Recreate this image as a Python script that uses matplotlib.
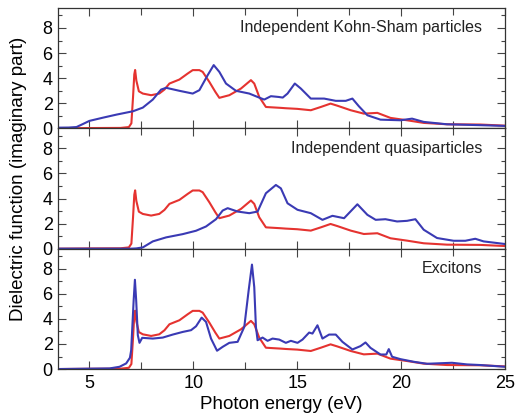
import matplotlib
matplotlib.use("Agg")
import matplotlib.pyplot as plt
from matplotlib.ticker import MultipleLocator

plt.rcParams['font.family'] = ['Liberation Sans', 'DejaVu Sans']

# Espectro rojo (igual en los tres paneles)
e_red = [3.5, 5.0, 6.5, 6.9, 7.02, 7.1, 7.16, 7.2, 7.26, 7.38, 7.57, 7.97, 8.36, 8.61,
         8.85, 9.33, 9.73, 9.97, 10.29, 10.45, 10.77, 11.06, 11.25, 11.73, 12.29, 12.77,
         12.93, 13.17, 13.49, 14.2, 14.45, 15.0, 15.65, 16.13, 16.6, 16.93, 17.57, 18.2,
         18.85, 19.48, 20.28, 21.08, 22.2, 23.8, 25.0]
v_red = [0.0, 0.02, 0.03, 0.1, 0.4, 2.5, 4.3, 4.65, 3.8, 2.95, 2.77, 2.64, 2.77, 3.09,
         3.57, 3.89, 4.37, 4.64, 4.64, 4.5, 3.7, 2.9, 2.43, 2.64, 3.17, 3.84,
         3.57, 2.5, 1.7, 1.63, 1.6, 1.55, 1.44, 1.7, 1.97, 1.8, 1.44, 1.17,
         1.23, 0.83, 0.64, 0.43, 0.32, 0.3, 0.21]

# Kohn-Sham independientes
e_ks = [3.5, 4.0, 4.38, 4.7, 5.0, 5.66, 6.3, 7.1, 7.57, 8.05, 8.45, 8.69, 9.33, 9.97,
        10.29, 10.69, 10.98, 11.25, 11.57, 12.05, 12.69, 13.09, 13.41, 13.73, 14.1, 14.3,
        14.53, 14.88, 15.17, 15.65, 16.29, 16.85, 17.33, 17.65, 17.96, 18.37, 19.0, 19.96,
        20.52, 21.08, 22.2, 23.8, 25.0]
v_ks = [0.05, 0.06, 0.1, 0.35, 0.59, 0.85, 1.09, 1.36, 1.65, 2.29, 3.09, 3.23, 2.99, 2.77,
        3.04, 4.24, 5.04, 4.5, 3.57, 2.99, 2.77, 2.5, 2.29, 2.56, 2.5, 2.45,
        2.77, 3.57, 3.17, 2.37, 2.37, 2.19, 2.19, 2.37, 1.76, 1.04, 0.69, 0.64,
        0.77, 0.51, 0.32, 0.25, 0.19]

# Cuasipartículas independientes
e_qp = [3.5, 7.0, 7.25, 7.57, 8.05, 8.69, 9.49, 10.13, 10.61, 11.09, 11.41, 11.65, 12.13,
        12.69, 13.09, 13.49, 13.97, 14.21, 14.53, 15.01, 15.65, 16.21, 16.69, 17.25, 17.89,
        18.37, 18.77, 19.24, 19.8, 20.28, 20.68, 21.08, 21.72, 22.52, 23.08, 23.56, 23.96, 25.0]
v_qp = [0.0, 0.0, 0.02, 0.1, 0.58, 0.9, 1.16, 1.43, 1.77, 2.35, 3.04, 3.23, 2.96,
        2.83, 2.96, 4.42, 5.08, 4.81, 3.62, 3.1, 2.83, 2.3, 2.62, 2.43, 3.54,
        2.7, 2.3, 2.35, 2.17, 2.22, 2.35, 1.51, 0.85, 0.63, 0.63, 0.79, 0.58, 0.37]

# Excitones
e_ex = [3.5, 5.97, 6.45, 6.77, 6.95, 7.01, 7.13, 7.19, 7.25, 7.33, 7.41, 7.54, 8.05, 8.53,
        9.01, 9.49, 9.89, 10.13, 10.4, 10.61, 10.85, 11.14, 11.41, 11.73, 12.13, 12.45,
        12.66, 12.82, 12.93, 13.01, 13.09, 13.33, 13.57, 13.81, 14.13, 14.45, 14.69, 15.01,
        15.25, 15.57, 15.73, 15.97, 16.21, 16.53, 16.85, 17.17, 17.65, 18.04, 18.28, 18.52,
        19.0, 19.28, 19.4, 19.56, 19.96, 20.6, 21.24, 22.44, 23.16, 23.8, 25.0]
v_ex = [0.0, 0.05, 0.18, 0.45, 0.9, 1.5, 5.5, 7.12, 5.5, 2.7, 2.09, 2.49, 2.43, 2.51,
        2.75, 2.96, 3.1, 3.41, 4.1, 3.76, 2.43, 1.46, 1.77, 2.09, 2.17, 3.36,
        6.27, 8.33, 6.53, 3.36, 2.3, 2.51, 2.25, 2.43, 2.35, 2.09, 2.25, 2.09,
        2.35, 2.91, 2.83, 3.49, 2.43, 2.75, 2.75, 2.17, 1.56, 1.83, 2.12, 1.69,
        1.16, 1.16, 1.59, 0.98, 0.79, 0.58, 0.42, 0.5, 0.37, 0.32, 0.18]

panel_labels = ["Independent Kohn-Sham particles", "Independent quasiparticles", "Excitons"]
blue_series = [(e_ks, v_ks), (e_qp, v_qp), (e_ex, v_ex)]

red = '#e53330'
blue = '#3a3ab4'

fig, axes = plt.subplots(3, 1, sharex=True, figsize=(5.15, 4.17), dpi=100)
fig.subplots_adjust(left=0.113, right=0.981, bottom=0.115, top=0.981, hspace=0)

for ax, (eb, vb), label in zip(axes, blue_series, panel_labels):
    ax.plot(e_red, v_red, color=red, lw=1.5)
    ax.plot(eb, vb, color=blue, lw=1.5)
    ax.set_xlim(3.5, 25)
    ax.set_ylim(0, 9.6)
    ax.xaxis.set_major_locator(MultipleLocator(5))
    ax.xaxis.set_minor_locator(MultipleLocator(2.5))
    ax.yaxis.set_major_locator(MultipleLocator(2))
    ax.yaxis.set_minor_locator(MultipleLocator(1))
    ax.tick_params(which='both', direction='in', top=True, right=True, labelsize=13,
                   color='#444444')
    ax.tick_params(which='major', length=5.5, width=0.8, pad=4)
    ax.tick_params(which='minor', length=3, width=0.8)
    ax.tick_params(axis='x', which='minor', length=5)
    for s in ax.spines.values():
        s.set_linewidth(0.9)
        s.set_color('#333333')
    ax.text(0.949, 0.835, label, transform=ax.transAxes, ha='right', va='center',
            fontsize=11.5, color='#222222')

axes[2].set_xlabel("Photon energy (eV)", fontsize=13.5, labelpad=3)
fig.text(0.035, 0.57, "Dielectric function (imaginary part)", rotation=90,
         ha='center', va='center', fontsize=13.5)

plt.savefig("out.png", dpi=100)
